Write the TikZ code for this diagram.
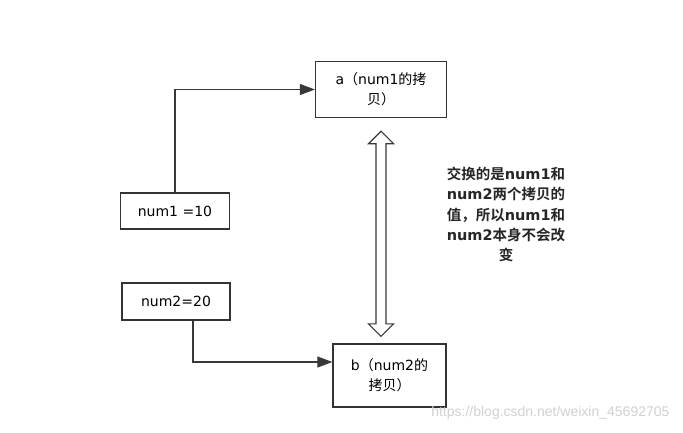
\documentclass[tikz,border=0pt]{standalone}
\usepackage{fontspec}
\setmainfont{DejaVu Sans}
\newfontfamily\cjkfont{Noto Sans CJK SC}[BoldFont={Noto Sans CJK SC Bold}]
\newfontfamily\wmfont{Liberation Sans}
\newcommand{\zh}[1]{{\cjkfont #1}}
\usetikzlibrary{arrows.meta, positioning, calc}

\begin{document}
\begin{tikzpicture}[x=1pt, y=-1pt,
  box/.style={rectangle, draw=black!80, line width=1.3pt, fill=white,
              align=center, inner sep=0pt, font=\fontsize{14}{20}\selectfont},
  arr/.style={-{Triangle[length=15pt,width=11pt]}, line width=1.1pt, black!78},
  dbl/.style={draw=black!78, line width=1.2pt, fill=white, line join=miter},
  note/.style={align=center, font=\bfseries\fontsize{14.5}{20.3}\selectfont, text=black!85}
]
\fill[white] (0,0) rectangle (683,432);
\useasboundingbox (0,0) rectangle (683,432);

% copies and originals
\node[box, minimum width=131pt, minimum height=56pt] (a) at (381,89.5)
  {a\zh{（}num1\zh{的拷}\\\zh{贝）}};
\node[box, minimum width=109pt, minimum height=36pt] (num1) at (175,211) {num1 =10};
\node[box, minimum width=108pt, minimum height=37pt] (num2) at (176,301.5) {num2=20};
\node[box, minimum width=113pt, minimum height=63pt] (b) at (389.5,375.5)
  {b\zh{（}num2\zh{的}\\\zh{拷贝）}};

% copy arrows
\draw[arr] (num1.north) |- (a.west);
\draw[arr] ([xshift=17pt]num2.south) |- ([yshift=13.5pt]b.west);

% swap arrow between a and b
\coordinate (up) at ([yshift=-13pt]a.south);
\coordinate (dn) at ($(up |- b.north)+(0,-7)$);
\draw[dbl] (up) -- ($(up)+(12.5,12.5)$) -- ($(up)+(5,12.5)$)
  -- ($(dn)+(5,-12.5)$) -- ($(dn)+(12.5,-12.5)$) -- (dn)
  -- ($(dn)+(-12.5,-12.5)$) -- ($(dn)+(-5,-12.5)$)
  -- ($(up)+(-5,12.5)$) -- ($(up)+(-12.5,12.5)$) -- cycle;

% explanation
\node[note] (expl) at (506,214.5)
  {\zh{交换的是}num1\zh{和}\\num2\zh{两个拷贝的}\\\zh{值，所以}num1\zh{和}\\num2\zh{本身不会改}\\\zh{变}};

\node[font=\wmfont\fontsize{14}{16}\selectfont, text=black!18, anchor=east] (wm) at (673,413)
  {https://blog.csdn.net/weixin\_45692705};
\end{tikzpicture}
\end{document}
